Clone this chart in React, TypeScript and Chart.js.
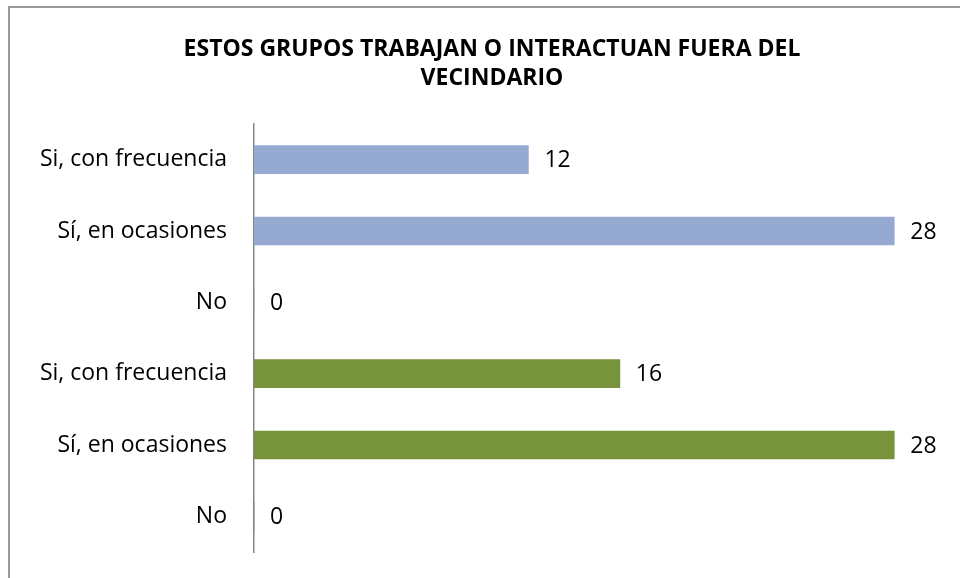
import React, { useEffect, useRef } from "react";
import { Chart, registerables } from "chart.js";

Chart.register(...registerables);

const titleLines = ["ESTOS GRUPOS TRABAJAN O INTERACTUAN FUERA DEL", "VECINDARIO"];
const categories = [
  "Si, con frecuencia",
  "Sí, en ocasiones",
  "No",
  "Si, con frecuencia",
  "Sí, en ocasiones",
  "No",
];
const values = [12, 28, 0, 16, 28, 0];
const groupOfBar = [0, 0, 0, 1, 1, 1];
const groupColors = ["#95A9D1", "#77933C"];
const xMax = 30;

const FONT = "'Open Sans', 'Noto Sans', sans-serif";
const LABEL_SIZE = 23;
const CANVAS_W = 984;
const CANVAS_H = 600;

const frame = {
  id: "frame",
  beforeDraw(chart: any) {
    const { ctx, width, height } = chart;
    ctx.save();
    ctx.fillStyle = "#ffffff";
    ctx.fillRect(0, 0, width, height);
    ctx.strokeStyle = "#9A9A9A";
    ctx.lineWidth = 2;
    ctx.beginPath();
    ctx.moveTo(9, height);
    ctx.lineTo(9, 7);
    ctx.lineTo(width, 7);
    ctx.stroke();
    ctx.restore();
  },
};

const valueLabels = {
  id: "valueLabels",
  afterDatasetsDraw(chart: any) {
    const { ctx } = chart;
    const meta = chart.getDatasetMeta(0);
    ctx.save();
    ctx.fillStyle = "#000000";
    ctx.font = `${LABEL_SIZE}px ${FONT}`;
    ctx.textAlign = "left";
    ctx.textBaseline = "middle";
    meta.data.forEach((el: any, i: number) => {
      const v = chart.data.datasets[0].data[i];
      ctx.fillText(String(v), el.x + 16, el.y + 1);
    });
    ctx.restore();
  },
};

export default function App() {
  const ref = useRef<HTMLCanvasElement | null>(null);
  useEffect(() => {
    if (!ref.current) return;
    const chart = new Chart(ref.current, {
      type: "bar",
      data: {
        labels: categories,
        datasets: [
          {
            data: values,
            backgroundColor: values.map((_, i) => groupColors[groupOfBar[i]]),
            barThickness: 28,
            borderWidth: 0,
          },
        ],
      },
      options: {
        indexAxis: "y",
        animation: false,
        responsive: false,
        events: [],
        layout: { padding: { left: 0, right: 0, top: 0, bottom: CANVAS_H - 552 } },
        plugins: {
          legend: { display: false },
          tooltip: { enabled: false },
          title: {
            display: true,
            text: titleLines,
            color: "#000000",
            font: { family: FONT, size: 23, weight: "bold", lineHeight: "29px" },
            padding: { top: 35, bottom: 31 },
          },
        },
        scales: {
          x: { display: false, min: 0, max: xMax },
          y: {
            position: "left",
            grid: { display: false, drawTicks: false },
            border: { display: true, color: "#868686", width: 1.5 },
            ticks: {
              color: "#000000",
              padding: 27,
              font: { family: FONT, size: LABEL_SIZE },
            },
            afterFit: (s: any) => {
              s.width = 254;
            },
          },
          yRight: {
            type: "linear",
            axis: "y",
            position: "right",
            grid: { display: false, drawTicks: false },
            border: { display: false },
            ticks: { display: false },
            afterFit: (s: any) => {
              s.width = 44;
            },
          },
        },
      },
      plugins: [frame, valueLabels],
    } as any);
    return () => chart.destroy();
  }, []);
  return (
    <div
      style={{
        position: "fixed",
        left: 0,
        top: 0,
        width: 960,
        height: 578,
        overflow: "hidden",
        background: "#fff",
      }}
    >
      <canvas
        ref={ref}
        width={CANVAS_W}
        height={CANVAS_H}
        style={{ width: CANVAS_W, height: CANVAS_H, display: "block" }}
      />
    </div>
  );
}
